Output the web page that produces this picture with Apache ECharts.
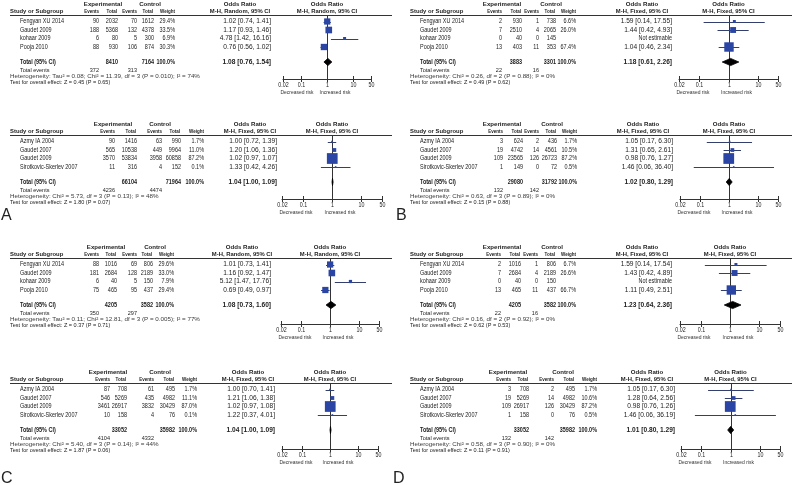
<!DOCTYPE html>
<html><head><meta charset="utf-8">
<script src="https://cdn.jsdelivr.net/npm/echarts@6/dist/echarts.min.js"></script>
<style>html,body{margin:0;padding:0;background:#fff}#c{width:800px;height:485px}</style>
</head><body><div id="c"></div>
<script>
// ---------- DATA (panel order: A-top, A-bottom, C-top, C-bottom, B-top, B-bottom, D-top, D-bottom) ----------
const studyNames = [
  ["Fengyan XU 2014","Gaudet 2009","kohaar 2009","Pooja 2010"],
  ["Azmy IA 2004","Gaudet 2007","Gaudet 2009","Sirotkovic-Skerlev 2007"],
  ["Fengyan XU 2014","Gaudet 2009","kohaar 2009","Pooja 2010"],
  ["Azmy IA 2004","Gaudet 2007","Gaudet 2009","Sirotkovic-Skerlev 2007"],
  ["Fengyan XU 2014","Gaudet 2009","kohaar 2009","Pooja 2010"],
  ["Azmy IA 2004","Gaudet 2007","Gaudet 2009","Sirotkovic-Skerlev 2007"],
  ["Fengyan XU 2014","Gaudet 2009","kohaar 2009","Pooja 2010"],
  ["Azmy IA 2004","Gaudet 2007","Gaudet 2009","Sirotkovic-Skerlev 2007"]
];
const expEvents = [[90,188,6,88],[90,565,3570,11],[88,181,6,75],[87,546,3461,10],
                   [2,7,0,13],[3,19,109,1],[2,7,0,13],[3,19,109,1]];
const expTotal  = [[2032,5368,80,930],[1416,10538,53834,316],[1016,2684,40,465],[708,5269,26917,158],
                   [930,2510,40,403],[624,4742,23565,149],[1016,2684,40,465],[708,5269,26917,158]];
const ctlEvents = [[70,132,5,106],[63,449,3958,4],[69,128,5,95],[61,435,3832,4],
                   [1,4,0,11],[2,14,126,0],[1,4,0,11],[2,14,126,0]];
const ctlTotal  = [[1612,4378,300,874],[990,9964,60858,152],[806,2189,150,437],[495,4982,30429,76],
                   [738,2065,145,353],[436,4561,26723,72],[806,2189,150,437],[495,4982,30429,76]];
const weights   = [[29.4,33.5,6.9,30.3],[1.7,11.0,87.2,0.1],[29.6,33.0,7.9,29.4],[1.7,11.1,87.0,0.1],
                   [6.6,26.0,null,67.4],[1.7,10.5,87.2,0.5],[6.7,26.6,null,66.7],[1.7,10.6,87.2,0.5]];
const oddsRatio = [[1.02,1.17,4.78,0.76],[1.00,1.20,1.02,1.33],[1.01,1.16,5.12,0.69],[1.00,1.21,1.02,1.22],
                   [1.59,1.44,null,1.04],[1.05,1.31,0.98,1.46],[1.59,1.43,null,1.11],[1.05,1.28,0.98,1.46]];
const ciLow     = [[0.74,0.93,1.42,0.56],[0.72,1.06,0.97,0.42],[0.73,0.92,1.47,0.49],[0.70,1.06,0.97,0.37],
                   [0.14,0.42,null,0.46],[0.17,0.65,0.76,0.06],[0.14,0.42,null,0.49],[0.17,0.64,0.76,0.06]];
const ciHigh    = [[1.41,1.46,16.16,1.02],[1.39,1.36,1.07,4.26],[1.41,1.47,17.76,0.97],[1.41,1.38,1.08,4.01],
                   [17.55,4.93,null,2.34],[6.30,2.61,1.27,36.40],[17.54,4.89,null,2.51],[6.30,2.56,1.26,36.19]];
const totalExp  = [8410,66104,4205,33052,3883,29080,4205,33052];
const totalCtl  = [7164,71964,3582,35982,3301,31792,3582,35982];
const totalOR   = [1.08,1.04,1.08,1.04,1.18,1.02,1.23,1.01];
const totalLow  = [0.76,1.00,0.73,1.00,0.61,0.80,0.64,0.80];
const totalHigh = [1.54,1.09,1.60,1.09,2.26,1.29,2.36,1.29];
const totalEventsExp = [372,4236,350,4104,22,132,22,132];
const totalEventsCtl = [313,4474,297,4332,16,142,16,142];
const methods   = ["Random","Fixed","Random","Fixed","Fixed","Fixed","Fixed","Fixed"];
const heterogeneity = [
  "Heterogeneity: Tau² = 0.08; Chi² = 11.39, df = 3 (P = 0.010); I² = 74%",
  "Heterogeneity: Chi² = 5.73, df = 3 (P = 0.13); I² = 48%",
  "Heterogeneity: Tau² = 0.11; Chi² = 12.81, df = 3 (P = 0.005); I² = 77%",
  "Heterogeneity: Chi² = 5.40, df = 3 (P = 0.14); I² = 44%",
  "Heterogeneity: Chi² = 0.26, df = 2 (P = 0.88); I² = 0%",
  "Heterogeneity: Chi² = 0.63, df = 3 (P = 0.89); I² = 0%",
  "Heterogeneity: Chi² = 0.16, df = 2 (P = 0.92); I² = 0%",
  "Heterogeneity: Chi² = 0.58, df = 3 (P = 0.90); I² = 0%"
];
const overallTest = [
  "Test for overall effect: Z = 0.45 (P = 0.65)",
  "Test for overall effect: Z = 1.80 (P = 0.07)",
  "Test for overall effect: Z = 0.37 (P = 0.71)",
  "Test for overall effect: Z = 1.87 (P = 0.06)",
  "Test for overall effect: Z = 0.49 (P = 0.62)",
  "Test for overall effect: Z = 0.15 (P = 0.88)",
  "Test for overall effect: Z = 0.62 (P = 0.53)",
  "Test for overall effect: Z = 0.11 (P = 0.91)"
];
const axisTicks  = [0.02, 0.1, 1, 10, 50];
const tickLabels = ["0.02","0.1","1","10","50"];
const panelLetters = ["A","B","C","D"];

// ---------- LAYOUT ----------
const layout = [
 {ox:0,  oy:0,   ev1:99, tot1:118,ev2:137,tot2:154,wt:175,orR:271,expC:103,ctlC:150,orC:240,xa:283,xb:371,axisY:79},
 {ox:0,  oy:120, ev1:115,tot1:137,ev2:162,tot2:181,wt:204,orR:277,expC:113,ctlC:160,orC:250,xa:282,xb:382,axisY:199},
 {ox:0,  oy:243, ev1:99, tot1:117,ev2:137,tot2:153,wt:174,orR:271,expC:106,ctlC:155,orC:242,xa:281,xb:379,axisY:324},
 {ox:0,  oy:368, ev1:110,tot1:127,ev2:154,tot2:175,wt:197,orR:275,expC:108,ctlC:160,orC:248,xa:282,xb:378,axisY:449},
 {ox:400,oy:0,   ev1:502,tot1:522,ev2:539,tot2:556,wt:576,orR:672,expC:502,ctlC:551,orC:642,xa:679,xb:778,axisY:79},
 {ox:400,oy:120, ev1:503,tot1:523,ev2:539,tot2:557,wt:577,orR:673,expC:502,ctlC:552,orC:643,xa:680,xb:778,axisY:199},
 {ox:400,oy:243, ev1:501,tot1:521,ev2:538,tot2:556,wt:576,orR:672,expC:502,ctlC:552,orC:642,xa:680,xb:780,axisY:324},
 {ox:400,oy:368, ev1:511,tot1:529,ev2:554,tot2:575,wt:597,orR:675,expC:508,ctlC:563,orC:647,xa:681,xb:780,axisY:449}
];
const letterPos = [[1,216],[396,216],[1,479],[393,479]];
const ROW_H = 8.5, ROW0 = 21.5, TOTAL_ROW = (62 - ROW0) / ROW_H;
const FONT = '"Liberation Sans", Arial, sans-serif';
const BODY = {size: 6.6, sx: 0.83};

function txt(x, y, s, o) {
  o = o || {};
  const size = o.size || BODY.size;
  return {
    type: 'text', x: x, y: y, scaleX: (o.sx != null ? o.sx : BODY.sx), silent: true,
    style: {
      text: String(s), x: 0, y: 0, fill: o.color || '#222',
      font: (o.bold ? 'bold ' : '') + size + 'px ' + FONT,
      textAlign: o.align || 'left', align: o.align || 'left',
      textVerticalAlign: 'middle', verticalAlign: 'middle'
    }
  };
}
const f2 = v => v.toFixed(2);
const orText = (o, l, h) => f2(o) + ' [' + f2(l) + ', ' + f2(h) + ']';
const ext = (a, b) => Object.assign({}, a, b);

const graphics = [];
layout.forEach((L, p) => {
  const HG = {bold: true, sx: 1, size: 6.1, align: 'center'};      // group headers
  const HC = {bold: true, sx: 0.74, size: 6.1, align: 'right'};    // column headers
  const HM = {bold: true, sx: 0.95, size: 6.2, align: 'center'};   // method headers
  const x1 = (L.xa + L.xb) / 2;
  graphics.push(txt(L.expC, L.oy + 4, 'Experimental', HG));
  graphics.push(txt(L.ctlC, L.oy + 4, 'Control', HG));
  graphics.push(txt(L.orC, L.oy + 4, 'Odds Ratio', HG));
  graphics.push(txt(x1, L.oy + 4, 'Odds Ratio', HG));
  const sy = L.oy + 11.5;
  graphics.push(txt(L.ox + 10, sy, 'Study or Subgroup', {bold: true, sx: 0.95, size: 6.2}));
  graphics.push(txt(L.ev1, sy, 'Events', HC));
  graphics.push(txt(L.tot1 - 1, sy, 'Total', HC));
  graphics.push(txt(L.ev2, sy, 'Events', HC));
  graphics.push(txt(L.tot2 - 1, sy, 'Total', HC));
  graphics.push(txt(L.wt, sy, 'Weight', HC));
  const mh = 'M-H, ' + methods[p] + ', 95% CI';
  graphics.push(txt(L.orC, sy, mh, HM));
  graphics.push(txt(x1, sy, mh, HM));
  graphics.push({type: 'line', silent: true, shape: {x1: L.ox + 10, y1: L.oy + 15.5, x2: L.ox + 392, y2: L.oy + 15.5},
                 style: {stroke: '#333', lineWidth: 1}});
  const OR = {align: 'right', sx: 1.0};
  studyNames[p].forEach((n, i) => {
    const y = L.oy + ROW0 + ROW_H * i;
    graphics.push(txt(L.ox + 20, y, n));
    graphics.push(txt(L.ev1, y, expEvents[p][i], {align: 'right'}));
    graphics.push(txt(L.tot1, y, expTotal[p][i], {align: 'right'}));
    graphics.push(txt(L.ev2, y, ctlEvents[p][i], {align: 'right'}));
    graphics.push(txt(L.tot2, y, ctlTotal[p][i], {align: 'right'}));
    if (weights[p][i] != null) {
      graphics.push(txt(L.wt, y, weights[p][i].toFixed(1) + '%', {align: 'right'}));
      graphics.push(txt(L.orR, y, orText(oddsRatio[p][i], ciLow[p][i], ciHigh[p][i]), OR));
    } else {
      graphics.push(txt(L.orR, y, 'Not estimable', {align: 'right'}));
    }
  });
  const ty = L.oy + 62;
  const B = {bold: true, align: 'right'};
  graphics.push(txt(L.ox + 20, ty, 'Total (95% CI)', {bold: true}));
  graphics.push(txt(L.tot1, ty, totalExp[p], B));
  graphics.push(txt(L.tot2, ty, totalCtl[p], B));
  graphics.push(txt(L.wt, ty, '100.0%', B));
  graphics.push(txt(L.orR, ty, orText(totalOR[p], totalLow[p], totalHigh[p]), ext(OR, {bold: true})));
  const FT = {size: 6.0, sx: 0.92};
  graphics.push(txt(L.ox + 20, L.oy + 70.8, 'Total events', FT));
  graphics.push(txt(L.ev1, L.oy + 70.8, totalEventsExp[p], ext(FT, {align: 'right'})));
  graphics.push(txt(L.ev2, L.oy + 70.8, totalEventsCtl[p], ext(FT, {align: 'right'})));
  graphics.push(txt(L.ox + 10, L.oy + 76.6, heterogeneity[p], {size: 5.9, sx: 1.06, color: '#3a3a3a'}));
  graphics.push(txt(L.ox + 10, L.oy + 82.2, overallTest[p], FT));
  const RL = {align: 'center', size: 6.2, sx: 0.8, color: '#333'};
  graphics.push(txt(L.xa + 14, L.axisY + 13.5, 'Decreased risk', RL));
  graphics.push(txt(x1 + 8, L.axisY + 13.5, 'Increased risk', RL));
});
panelLetters.forEach((t, k) => {
  graphics.push(txt(letterPos[k][0], letterPos[k][1], t, {size: 16, sx: 1, color: '#222'}));
});

// ---------- SERIES ----------
const grids = [], xAxes = [], yAxes = [], series = [];
layout.forEach((L, p) => {
  grids.push({left: L.xa, width: L.xb - L.xa, top: L.oy + 15, height: L.axisY - L.oy - 15});
  xAxes.push({type: 'log', logBase: 10, gridIndex: p, min: 0.02, max: 50,
    axisLine: {show: true, onZero: false, lineStyle: {color: '#333', width: 1}},
    axisTick: {show: false}, axisLabel: {show: false}, splitLine: {show: false}});
  yAxes.push({type: 'value', gridIndex: p, inverse: true, show: false,
    min: (15 - ROW0) / ROW_H, max: (L.axisY - L.oy - ROW0) / ROW_H});

  // reference line at OR = 1
  series.push({type: 'custom', xAxisIndex: p, yAxisIndex: p, z: 1, silent: true, data: [[1, 0]],
    renderItem: (params, api) => {
      const cs = params.coordSys; const x = Math.round(api.coord([api.value(0), 0])[0]) + 0.5;
      return {type: 'line', shape: {x1: x, y1: cs.y, x2: x, y2: cs.y + cs.height}, style: {stroke: '#333', lineWidth: 1}};
    }});
  // axis ticks & labels
  series.push({type: 'custom', xAxisIndex: p, yAxisIndex: p, z: 3, silent: true,
    data: axisTicks.map((t, k) => [t, k]),
    renderItem: (params, api) => {
      const cs = params.coordSys; const x = Math.round(api.coord([api.value(0), 0])[0]) + 0.5;
      const y = cs.y + cs.height;
      return {type: 'group', children: [
        {type: 'line', shape: {x1: x, y1: y - 3, x2: x, y2: y + 3}, style: {stroke: '#333', lineWidth: 1}},
        {type: 'text', x: x, y: y + 6.5, scaleX: 0.83,
          style: {text: tickLabels[api.value(1)], x: 0, y: 0, fill: '#222', font: '6.4px ' + FONT,
                  textAlign: 'center', align: 'center', textVerticalAlign: 'middle', verticalAlign: 'middle'}}
      ]};
    }});
  // study CIs & squares
  const sdata = [];
  oddsRatio[p].forEach((o, i) => {
    if (o != null) sdata.push([o, ciLow[p][i], ciHigh[p][i], i, weights[p][i]]);
  });
  series.push({type: 'custom', xAxisIndex: p, yAxisIndex: p, z: 2, silent: true, data: sdata,
    renderItem: (params, api) => {
      const row = api.value(3);
      const pl = api.coord([api.value(1), row]), ph = api.coord([api.value(2), row]), pc = api.coord([api.value(0), row]);
      const y = Math.round(pc[1]) + 0.5;
      const s = Math.max(1.6, 1.15 * Math.sqrt(api.value(4)));
      return {type: 'group', children: [
        {type: 'line', shape: {x1: pl[0], y1: y, x2: ph[0], y2: y}, style: {stroke: '#33406e', lineWidth: 1}},
        {type: 'rect', shape: {x: pc[0] - s / 2, y: pc[1] - s / 2, width: s, height: s}, style: {fill: '#2a45a3'}}
      ]};
    }});
  // pooled diamond
  series.push({type: 'custom', xAxisIndex: p, yAxisIndex: p, z: 2, silent: true,
    data: [[totalOR[p], totalLow[p], totalHigh[p], TOTAL_ROW]],
    renderItem: (params, api) => {
      const r = api.value(3);
      const pl = api.coord([api.value(1), r]), ph = api.coord([api.value(2), r]), pc = api.coord([api.value(0), r]);
      const h = 3.6;
      return {type: 'polygon', shape: {points: [[pl[0], pc[1]], [pc[0], pc[1] - h], [ph[0], pc[1]], [pc[0], pc[1] + h]]},
              style: {fill: '#000', stroke: '#000', lineWidth: 0.8}};
    }});
});

const chart = echarts.init(document.getElementById('c'), null, {renderer: 'canvas'});
chart.setOption({
  animation: false,
  backgroundColor: '#fff',
  grid: grids, xAxis: xAxes, yAxis: yAxes, series: series,
  graphic: {elements: graphics}
});
</script></body></html>
